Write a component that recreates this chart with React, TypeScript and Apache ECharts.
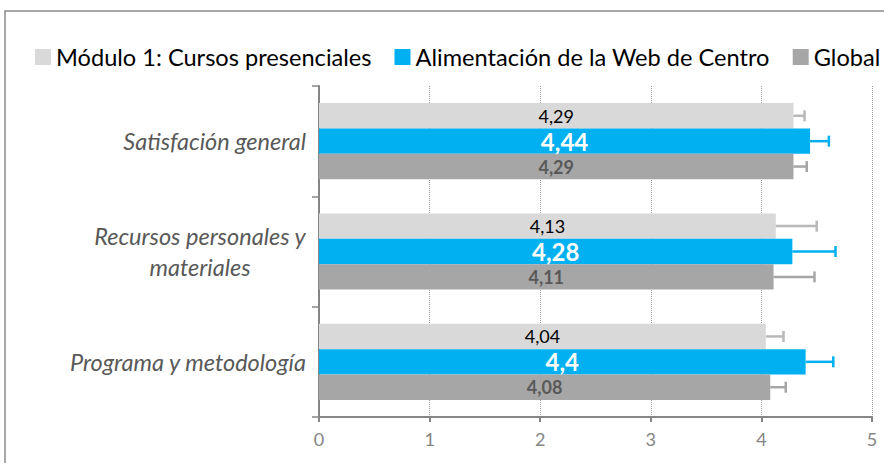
import React, { useEffect, useRef } from "react";
import * as echarts from "echarts";

const categories = ["Satisfación general", "Recursos personales y\nmateriales", "Programa y metodología"];
const seriesNames = ["Módulo 1: Cursos presenciales", "Alimentación de la Web de Centro", "Global"];
const modulo1 = [4.29, 4.13, 4.04];
const alimentacion = [4.44, 4.28, 4.4];
const globalVals = [4.29, 4.11, 4.08];
const modulo1ErrEnd = [4.39, 4.5, 4.2];
const alimentacionErrEnd = [4.61, 4.67, 4.65];
const globalErrEnd = [4.41, 4.48, 4.22];
const xTicks = [0, 1, 2, 3, 4, 5];

const FONT = "Lato";
const barColors = ["#D9D9D9", "#00B0F0", "#A6A6A6"];
const errColors = ["#B8B8B8", "#00B0F0", "#A6A6A6"];
const CAT_GAP = 0.31;

export default function App() {
  const ref = useRef<HTMLDivElement>(null);
  useEffect(() => {
    document.body.style.margin = "0";
    if (!ref.current) return;
    const chart = echarts.init(ref.current, undefined, { renderer: "svg" });
    const values = [modulo1, alimentacion, globalVals];
    const errs = [modulo1ErrEnd, alimentacionErrEnd, globalErrEnd];
    const fmt = (p: any) => String(p.value).replace(".", ",");
    const labelStyles = [
      { color: "#000", fontSize: 18, fontWeight: "normal" },
      { color: "#fff", fontSize: 24, fontWeight: "bold" },
      { color: "#595959", fontSize: 18, fontWeight: "bold" },
    ];
    const barSeries = values.map((v, i) => ({
      type: "bar",
      name: seriesNames[i],
      data: v,
      barGap: "0%",
      barCategoryGap: CAT_GAP * 100 + "%",
      itemStyle: { color: barColors[i] },
      label: {
        show: true,
        position: "inside",
        formatter: fmt,
        fontFamily: FONT,
        ...labelStyles[i],
      },
      z: 2,
    }));
    const errSeries = errs.map((e, i) => ({
      type: "custom",
      name: "err" + i,
      z: 3,
      encode: { x: [0, 2], y: 1 },
      data: e.map((end, c) => [values[i][c], c, end]),
      renderItem: (params: any, api: any) => {
        const val = api.value(0);
        const cat = api.value(1);
        const end = api.value(2);
        const p0 = api.coord([val, cat]);
        const p1 = api.coord([end, cat]);
        const band = api.size([0, 1])[1];
        const bw = (band * (1 - CAT_GAP)) / 3;
        const y = p0[1] + (i - 1) * bw;
        const style = { stroke: errColors[i], lineWidth: 2.5 };
        return {
          type: "group",
          children: [
            { type: "line", shape: { x1: p0[0], y1: y, x2: p1[0], y2: y }, style },
            { type: "line", shape: { x1: p1[0], y1: y - 5.5, x2: p1[0], y2: y + 5.5 }, style },
          ],
        };
      },
    }));
    chart.setOption({
      animation: false,
      graphic: [
        {
          type: "rect",
          shape: { x: 5, y: 11, width: 1000, height: 1000 },
          style: { fill: "none", stroke: "#8C8C8C", lineWidth: 1.5 },
          z: -1,
        },
      ],
      legend: {
        data: seriesNames,
        left: 30,
        top: 40,
        width: 1200,
        icon: "rect",
        itemWidth: 16,
        itemHeight: 16,
        itemGap: 23,
        textStyle: { fontFamily: FONT, fontSize: 23.6, color: "#000" },
      },
      grid: { left: 319, right: 12, top: 86, bottom: 46 },
      xAxis: {
        type: "value",
        min: xTicks[0],
        max: xTicks[xTicks.length - 1],
        interval: 1,
        axisLine: { show: true, lineStyle: { color: "#868686", width: 2 } },
        axisTick: { show: true, length: 5, lineStyle: { color: "#868686", width: 2 } },
        axisLabel: { color: "#858585", fontSize: 18, fontFamily: FONT, margin: 13 },
        splitLine: { show: true, lineStyle: { color: "#9A9A9A", type: "dotted", width: 1 } },
      },
      yAxis: {
        type: "category",
        inverse: true,
        data: categories,
        axisLine: { show: true, lineStyle: { color: "#868686", width: 2 } },
        axisTick: { show: true, length: 7, lineStyle: { color: "#868686", width: 1.5 } },
        axisLabel: {
          color: "#595959",
          fontSize: 23.5,
          fontStyle: "italic",
          fontFamily: FONT,
          margin: 13,
          lineHeight: 31,
          formatter: (v: string) =>
            v.includes("\n") ? v.split("\n").map((s) => "{c|" + s + "}").join("\n") : v,
          rich: {
            c: {
              width: 212,
              align: "center",
              color: "#595959",
              fontSize: 23.5,
              fontStyle: "italic",
              fontFamily: FONT,
              lineHeight: 31,
            },
          },
        },
      },
      series: [...barSeries, ...errSeries],
    });
    return () => chart.dispose();
  }, []);
  return <div ref={ref} style={{ width: 884, height: 463 }} />;
}
